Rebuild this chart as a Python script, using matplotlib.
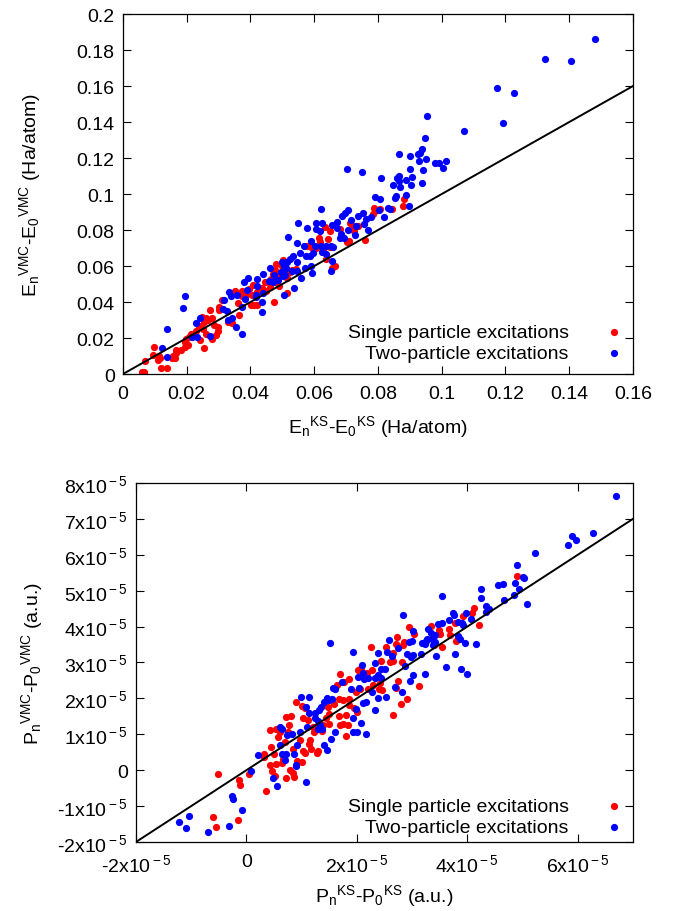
import numpy as np
import matplotlib
matplotlib.use("Agg")
import matplotlib.pyplot as plt

plt.rcParams['font.family'] = ['Liberation Sans', 'DejaVu Sans']
plt.rcParams['mathtext.fontset'] = 'custom'
plt.rcParams['mathtext.rm'] = 'Liberation Sans'
plt.rcParams['mathtext.it'] = 'Liberation Sans'

# ---- top panel: energies (values in 1e-3 Ha/atom) ----
e_two = np.array([
    [148.0, 186.1], [132.3, 174.8], [140.7, 173.7], [117.3, 159.1], [122.7, 156.3],
    [119.2, 139.3], [106.9, 135.0], [95.4, 143.5], [94.7, 131.3], [93.7, 124.8],
    [93.3, 123.0], [92.4, 122.0], [86.7, 122.0], [90.0, 121.3], [92.8, 118.5],
    [95.2, 119.4], [97.9, 117.0], [99.0, 117.2], [101.4, 118.3], [100.5, 114.4],
    [94.2, 113.1], [90.0, 113.7], [90.7, 109.6], [86.5, 110.2], [86.1, 108.9],
    [86.7, 107.4], [88.8, 107.8], [80.8, 108.9], [84.6, 105.0], [86.8, 103.7],
    [90.2, 104.8], [93.9, 106.3], [88.8, 99.4], [85.8, 98.7], [85.2, 97.8],
    [89.8, 93.3], [70.4, 113.9], [74.9, 112.4], [79.0, 98.5], [80.6, 97.2],
    [83.1, 92.2], [83.9, 91.9], [80.2, 91.1], [82.0, 87.0], [62.1, 91.9],
    [70.7, 91.0], [69.5, 89.4], [75.4, 89.3], [73.8, 87.6], [76.2, 86.1],
    [77.8, 87.2], [75.6, 83.3], [68.8, 87.6], [67.2, 84.6], [65.5, 82.8],
    [62.4, 83.9], [60.4, 84.1], [55.0, 83.9], [57.7, 80.9], [60.4, 80.6],
    [61.7, 79.3], [67.0, 80.9], [71.5, 85.6], [73.1, 82.2], [70.5, 80.0],
    [68.3, 77.8], [69.4, 75.6], [72.9, 77.4], [76.9, 80.0], [51.8, 75.9],
    [54.6, 72.8], [58.9, 73.7], [56.7, 71.3], [60.2, 71.3], [62.2, 71.3],
    [63.7, 71.3], [65.4, 70.9], [66.0, 70.4], [68.1, 75.4], [62.5, 67.6],
    [63.6, 66.7], [59.7, 67.2], [58.8, 65.4], [57.5, 65.4], [55.5, 67.4],
    [54.7, 62.0], [53.2, 65.7], [52.5, 63.7], [51.3, 62.4], [49.9, 62.0],
    [50.5, 60.2], [51.1, 58.7], [49.5, 56.9], [50.9, 55.0], [52.9, 57.2],
    [54.6, 57.4], [55.9, 53.5], [57.1, 59.1], [59.3, 55.9], [59.1, 59.8],
    [65.5, 62.6], [65.2, 57.4], [46.1, 58.7], [47.5, 55.0], [45.9, 51.5],
    [43.8, 55.4], [42.0, 52.8], [39.2, 53.1], [37.9, 51.3], [39.0, 46.9],
    [42.1, 49.1], [43.9, 44.8], [47.0, 50.9], [48.7, 52.4], [50.4, 44.1],
    [53.6, 47.6], [50.3, 54.3], [41.8, 44.1], [41.6, 43.0], [43.7, 39.8],
    [43.7, 34.6], [38.3, 41.7], [37.4, 37.0], [35.7, 43.9], [33.8, 43.3],
    [33.4, 45.4], [31.6, 41.3], [32.7, 34.8], [33.1, 30.0], [34.2, 31.3],
    [35.5, 26.3], [37.3, 22.0], [31.4, 36.1], [19.6, 43.5], [18.8, 36.7],
    [24.3, 30.9], [23.0, 28.1], [27.4, 20.9], [23.2, 20.4], [13.8, 24.8],
    [12.2, 14.4], [13.8, 9.4], [21.8, 20.4],
])

e_single = np.array([
    [88.3, 97.2], [87.7, 93.3], [78.9, 92.2], [79.2, 90.4], [80.5, 91.7],
    [84.3, 91.7], [78.4, 88.9], [76.0, 74.6], [73.8, 82.2], [72.2, 82.4],
    [71.2, 83.7], [72.5, 79.6], [71.0, 74.1], [70.2, 73.1], [68.0, 80.6],
    [64.9, 79.6], [63.5, 81.5], [64.3, 75.0], [61.5, 75.7], [61.9, 73.1],
    [64.8, 70.4], [62.9, 69.1], [60.4, 69.8], [58.9, 70.4], [57.7, 71.3],
    [66.5, 59.8], [65.7, 59.1], [63.8, 63.7], [54.4, 58.3], [53.0, 57.6],
    [52.3, 56.9], [51.0, 55.7], [51.6, 53.5], [50.0, 60.2], [50.2, 63.3],
    [48.0, 60.9], [47.8, 58.0], [48.7, 54.4], [47.1, 55.4], [46.5, 52.8],
    [47.7, 51.3], [48.9, 49.1], [46.2, 48.3], [44.5, 50.9], [43.7, 48.0],
    [45.0, 46.1], [42.9, 46.7], [42.0, 45.4], [40.6, 43.9], [40.7, 49.4],
    [39.5, 47.2], [38.7, 43.9], [37.4, 43.3], [37.3, 45.9], [35.1, 46.1],
    [36.2, 39.4], [40.2, 38.5], [41.2, 38.5], [42.0, 38.1], [47.3, 40.2],
    [51.5, 45.0], [36.3, 32.8], [34.3, 28.5], [33.0, 29.1], [31.1, 40.9],
    [30.2, 37.2], [30.0, 35.7], [27.4, 35.4], [27.8, 30.9], [26.1, 31.3],
    [25.5, 29.1], [26.8, 30.2], [28.4, 27.4], [29.9, 25.9], [29.8, 23.7],
    [29.3, 21.7], [28.0, 19.4], [26.1, 22.2], [25.1, 25.0], [23.8, 26.9],
    [23.0, 24.1], [21.3, 22.4], [20.7, 20.7], [19.9, 19.4], [19.5, 18.0],
    [20.4, 16.3], [19.3, 15.2], [18.2, 13.5], [16.7, 13.5], [16.5, 11.5],
    [15.7, 10.2], [16.3, 9.1], [15.4, 8.7], [25.5, 14.6], [24.1, 19.1],
    [11.7, 8.9], [11.0, 8.0], [11.2, 9.8], [9.7, 15.2], [9.4, 10.7],
    [11.8, 3.5], [13.7, 3.5], [7.0, 7.4], [6.5, 0.9], [6.0, 1.3],
    [24.9, 31.5],
])

# ---- bottom panel: P values (in 1e-5 a.u.) ----
p_two = np.array([
    [6.69, 7.64], [6.27, 6.62], [5.90, 6.53], [5.97, 6.41], [5.82, 6.28],
    [5.23, 6.06], [4.90, 5.71], [5.00, 5.37], [5.02, 5.35], [4.56, 5.17],
    [4.65, 5.20], [4.87, 5.21], [4.93, 5.04], [4.84, 4.87], [4.67, 4.73],
    [5.08, 4.62], [4.25, 5.06], [4.25, 4.81], [4.33, 4.56], [4.40, 4.50],
    [4.34, 4.42], [3.55, 4.86], [3.74, 4.37], [3.76, 4.31], [3.98, 4.39],
    [4.07, 4.22], [3.83, 4.13], [3.90, 4.11], [3.93, 4.04], [3.66, 4.17],
    [3.55, 4.11], [3.46, 4.07], [3.29, 3.94], [3.34, 3.83], [3.41, 3.76],
    [3.27, 3.66], [3.36, 3.65], [3.41, 3.57], [3.38, 3.48], [3.25, 3.59],
    [3.18, 3.55], [3.23, 3.51], [3.84, 3.73], [3.86, 3.66], [3.96, 3.55],
    [4.16, 3.52], [3.78, 3.23], [3.61, 2.88], [3.89, 2.82], [4.00, 2.68],
    [3.43, 3.18], [3.24, 2.67], [3.16, 3.25], [3.00, 3.61], [2.83, 4.33],
    [2.59, 3.62], [2.75, 3.39], [2.90, 3.25], [2.98, 3.15], [3.01, 3.20],
    [2.88, 2.90], [3.02, 2.66], [2.96, 2.48], [2.82, 2.18], [2.69, 2.31],
    [2.63, 3.17], [2.54, 3.29], [2.38, 3.26], [2.33, 2.99], [2.44, 2.83],
    [2.51, 2.83], [2.44, 2.57], [2.38, 2.64], [2.32, 2.57], [2.21, 2.57],
    [2.12, 2.54], [2.11, 2.71], [2.02, 2.59], [2.10, 2.94], [1.93, 3.29],
    [1.52, 3.53], [1.73, 2.46], [1.60, 2.27], [1.56, 2.30], [1.89, 2.25],
    [2.04, 2.29], [2.27, 2.18], [2.39, 2.01], [2.53, 2.04], [2.17, 1.90],
    [2.11, 1.86], [2.33, 1.69], [1.98, 1.70], [1.93, 1.44], [2.01, 1.07],
    [1.93, 1.07], [2.08, 1.32], [2.17, 1.02], [1.60, 1.05], [1.53, 0.86],
    [1.45, 0.56], [1.41, 0.70], [1.46, 2.02], [1.50, 1.95], [1.55, 1.99],
    [1.41, 1.90], [1.35, 1.76], [1.31, 1.69], [1.24, 1.58], [1.25, 1.44],
    [1.29, 1.37], [1.34, 1.25], [1.36, 1.14], [1.29, 1.14], [1.14, 1.58],
    [1.14, 2.04], [0.99, 2.04], [1.07, 1.76], [1.09, 1.20], [0.97, 1.07],
    [0.83, 1.00], [0.73, 0.97], [0.92, 0.71], [0.87, 0.44], [0.90, 0.14],
    [0.89, 0.11], [1.07, -0.34], [0.61, 1.21], [0.64, 1.14], [0.60, 0.70],
    [0.64, 0.44], [0.71, 0.44], [0.70, 0.27], [0.49, -0.21], [0.55, -0.45],
    [0.21, 0.42], [0.09, -0.03], [-0.27, -0.72], [-0.24, -0.79], [-0.08, -1.12],
    [-0.31, -1.55], [-0.69, -1.73], [-1.04, -1.27], [-1.10, -1.61], [-1.23, -1.45],
    [2.94, 3.56], [3.02, 3.87],
])

p_single = np.array([
    [4.90, 5.42], [4.12, 4.53], [4.08, 4.37], [4.22, 4.05], [3.93, 4.30],
    [3.77, 4.10], [3.67, 3.94], [3.49, 3.91], [3.51, 3.78], [3.35, 4.03],
    [3.79, 3.59], [3.69, 3.76], [3.54, 3.43], [3.40, 3.48], [2.94, 4.00],
    [3.04, 3.78], [2.86, 3.57], [2.72, 3.72], [2.83, 3.48], [2.70, 3.51],
    [2.26, 3.44], [2.52, 3.42], [2.65, 3.27], [2.44, 3.05], [2.60, 3.00],
    [2.66, 3.03], [2.81, 3.00], [2.27, 2.80], [2.02, 2.80], [2.07, 2.86],
    [2.18, 2.72], [2.17, 2.57], [1.70, 2.69], [1.85, 2.55], [1.77, 2.46],
    [1.64, 2.37], [2.06, 2.25], [1.99, 2.18], [2.21, 2.25], [2.29, 2.37],
    [2.42, 2.44], [2.46, 2.23], [2.40, 2.27], [2.70, 2.29], [2.75, 2.48],
    [3.12, 2.35], [2.90, 1.99], [2.80, 1.84], [2.65, 1.53], [1.86, 1.99],
    [1.74, 1.95], [1.67, 1.98], [1.58, 1.84], [1.47, 1.75], [1.86, 1.81],
    [1.94, 1.72], [2.00, 1.62], [1.81, 1.53], [1.68, 1.50], [1.74, 1.30],
    [1.70, 1.25], [1.84, 1.27], [1.81, 0.95], [1.49, 1.57], [1.44, 1.44],
    [1.49, 1.30], [1.38, 1.25], [1.36, 1.10], [1.20, 1.21], [1.22, 1.07],
    [1.16, 0.85], [1.13, 0.72], [1.17, 0.60], [1.06, 0.48], [1.03, 0.53],
    [1.27, 0.48], [1.29, 0.53], [1.00, 0.23], [1.11, 1.39], [1.03, 1.44],
    [1.06, 1.72], [1.00, 1.78], [0.89, 1.90], [0.81, 1.50], [0.72, 1.47],
    [0.77, 1.25], [0.75, 1.07], [0.70, 0.79], [0.60, 1.07], [0.54, 1.14],
    [0.57, 0.93], [0.43, 1.12], [0.45, 0.64], [0.50, 0.45], [0.32, 0.45],
    [0.31, 0.36], [0.66, 0.32], [0.64, 0.20], [0.78, 0.01], [0.84, -0.09],
    [0.86, -0.19], [0.72, -0.21], [0.54, 0.17], [0.42, 0.14], [0.46, -0.01],
    [0.51, -0.17], [0.35, -0.58], [0.04, -0.12], [-0.12, -0.40], [-0.14, -0.26],
    [-0.52, -0.12], [-0.16, -1.40], [-0.61, -1.31], [-0.55, -1.57], [0.97, 0.85],
    [0.85, 0.58], [0.91, 0.25],
])

e_ticks = [0, 0.02, 0.04, 0.06, 0.08, 0.1, 0.12, 0.14, 0.16]
e_labels = ['0', '0.02', '0.04', '0.06', '0.08', '0.1', '0.12', '0.14', '0.16']
e_yticks = [0, 0.02, 0.04, 0.06, 0.08, 0.1, 0.12, 0.14, 0.16, 0.18, 0.2]
e_ylabels = ['0', '0.02', '0.04', '0.06', '0.08', '0.1', '0.12', '0.14', '0.16', '0.18', '0.2']
p_xticks = [-2, 0, 2, 4, 6]
p_yticks = [-2, -1, 0, 1, 2, 3, 4, 5, 6, 7, 8]

RED = '#ff0000'
BLUE = '#0000ff'
FS = 14
MS = 27


def exp_label(v):
    if v == 0:
        return '0'
    return '%dx10$^{\\rm -5}$' % v


def style(ax):
    ax.tick_params(direction='in', length=6, width=0.8, top=True, right=True,
                   labelsize=FS)
    ax.tick_params(axis='x', pad=8)
    ax.tick_params(axis='y', pad=6)
    for s in ax.spines.values():
        s.set_linewidth(0.9)


def add_legend(ax, y0):
    ax.legend(loc='lower right', markerfirst=False, frameon=False, fontsize=FS,
              handletextpad=1.9, handlelength=0.8, labelspacing=0.2,
              borderaxespad=0.2, bbox_to_anchor=(1.0, y0), alignment='right')


fig = plt.figure(figsize=(6.81, 9.12), dpi=100)

# top
ax1 = fig.add_axes([0.1806, 0.5888, 0.7489, 0.3947])
ax1.scatter(e_single[:, 0] * 1e-3, e_single[:, 1] * 1e-3, s=MS, c=RED,
            linewidths=0, label='Single particle excitations', zorder=2)
ax1.scatter(e_two[:, 0] * 1e-3, e_two[:, 1] * 1e-3, s=MS, c=BLUE,
            linewidths=0, label='Two-particle excitations', zorder=3)
ax1.axline((0, 0), slope=1, color='black', lw=1.4, zorder=4)
ax1.set_xlim(0, 0.16)
ax1.set_ylim(0, 0.2)
ax1.set_xticks(e_ticks, e_labels)
ax1.set_yticks(e_yticks, e_ylabels)
style(ax1)
ax1.set_xlabel(r'E$_{\rm n}$$^{\rm KS}$-E$_{\rm 0}$$^{\rm KS}$ (Ha/atom)', fontsize=FS, labelpad=8)
ax1.set_ylabel(r'E$_{\rm n}$$^{\rm VMC}$-E$_{\rm 0}$$^{\rm VMC}$ (Ha/atom)', fontsize=FS, labelpad=24)
add_legend(ax1, 0.0)

# bottom
ax2 = fig.add_axes([0.1997, 0.0757, 0.7298, 0.3936])
ax2.scatter(p_single[:, 0] * 1e-5, p_single[:, 1] * 1e-5, s=MS, c=RED,
            linewidths=0, label='Single particle excitations', zorder=2)
ax2.scatter(p_two[:, 0] * 1e-5, p_two[:, 1] * 1e-5, s=MS, c=BLUE,
            linewidths=0, label='Two-particle excitations', zorder=3)
ax2.axline((0, 0), slope=1, color='black', lw=1.4, zorder=4)
ax2.set_xlim(-2e-5, 7e-5)
ax2.set_ylim(-2e-5, 8e-5)
ax2.set_xticks([v * 1e-5 for v in p_xticks], [exp_label(v) for v in p_xticks])
ax2.set_yticks([v * 1e-5 for v in p_yticks], [exp_label(v) for v in p_yticks])
style(ax2)
ax2.set_xlabel(r'P$_{\rm n}$$^{\rm KS}$-P$_{\rm 0}$$^{\rm KS}$ (a.u.)', fontsize=FS, labelpad=5)
ax2.set_ylabel(r'P$_{\rm n}$$^{\rm VMC}$-P$_{\rm 0}$$^{\rm VMC}$ (a.u.)', fontsize=FS, labelpad=9)
add_legend(ax2, -0.017)

fig.savefig('out.png', dpi=100)
